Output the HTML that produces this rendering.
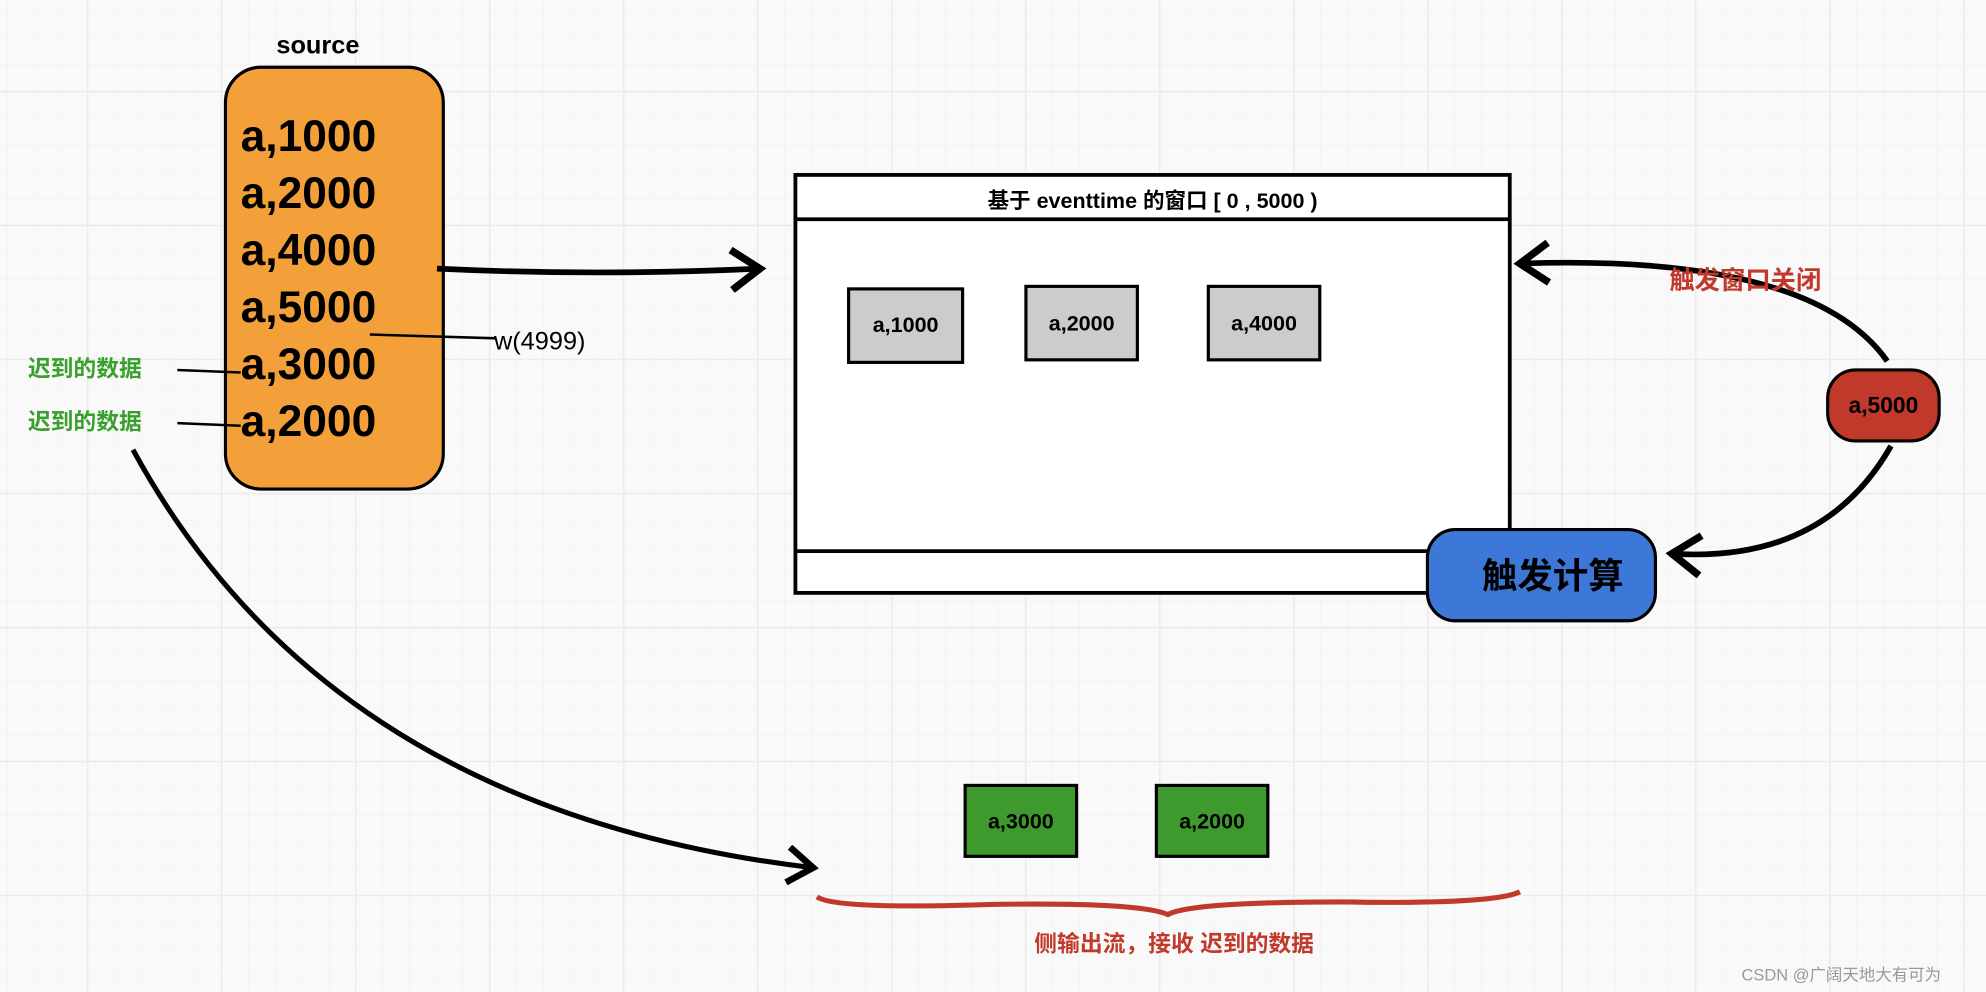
<!DOCTYPE html>
<html><head><meta charset="utf-8"><style>
html,body{margin:0;padding:0;background:#f9f9f9;}
svg{display:block;}
text{font-family:"Liberation Sans","Noto Sans CJK SC",sans-serif;}
</style></head><body>
<svg width="1986" height="992" viewBox="0 0 1568 783" xmlns="http://www.w3.org/2000/svg">
<defs>
<pattern id="minor" width="21.16" height="21.16" patternUnits="userSpaceOnUse" x="6" y="9">
<path d="M21.16 0V21.16M0 21.16H21.16" stroke="#f0f0f0" stroke-width="1" fill="none"/>
</pattern>
<pattern id="major" width="105.8" height="105.8" patternUnits="userSpaceOnUse" x="-36" y="-33">
<path d="M105.8 0V105.8M0 105.8H105.8" stroke="#ebebeb" stroke-width="2.5" fill="none"/>
</pattern>
<marker id="ah" markerWidth="8" markerHeight="8" refX="6" refY="4" orient="auto" markerUnits="strokeWidth">
<path d="M1,0.5 L6,4 L1,7.5" fill="none" stroke="#000" stroke-width="1.3"/>
</marker>
</defs>
<rect width="1568" height="783" fill="#f9f9f9"/>
<rect width="1568" height="783" fill="url(#minor)"/>
<rect width="1568" height="783" fill="url(#major)"/>

<text x="251" y="42" font-size="20" font-weight="bold" text-anchor="middle">source</text>
<rect x="178" y="53" width="172" height="333" rx="28" fill="#f4a03a" stroke="#000" stroke-width="2.5"/>
<g font-size="35" font-weight="bold">
<text x="190" y="119">a,1000</text>
<text x="190" y="164">a,2000</text>
<text x="190" y="209">a,4000</text>
<text x="190" y="254">a,5000</text>
<text x="190" y="299">a,3000</text>
<text x="190" y="344">a,2000</text>
</g>
<path d="M292 264 L392 267" stroke="#000" stroke-width="2"/>
<text x="390" y="276" font-size="20">w(4999)</text>
<g font-size="18" font-weight="bold" fill="#3aa02d">
<text x="22" y="297">迟到的数据</text>
<text x="22" y="339">迟到的数据</text>
</g>
<path d="M140 292 L190 294 M140 334 L190 336" stroke="#000" stroke-width="2"/>

<path d="M345 212 Q470 218 600 212" stroke="#000" stroke-width="4.5" fill="none" marker-end="url(#ah)"/>

<rect x="628" y="138" width="564" height="330" fill="#fff" stroke="#000" stroke-width="3"/>
<path d="M628 173 H1192 M628 435 H1192" stroke="#000" stroke-width="3"/>
<text x="910" y="164" font-size="17" font-weight="bold" text-anchor="middle">基于 eventtime 的窗口 [ 0 , 5000 )</text>

<g stroke="#000" stroke-width="2.5" fill="#cccccc">
<rect x="670" y="228" width="90" height="58"/>
<rect x="810" y="226" width="88" height="58"/>
<rect x="954" y="226" width="88" height="58"/>
</g>
<g font-size="17" font-weight="bold" text-anchor="middle">
<text x="715" y="262">a,1000</text>
<text x="854" y="261">a,2000</text>
<text x="998" y="261">a,4000</text>
</g>

<path d="M1490 285 Q1430 200 1200 208" stroke="#000" stroke-width="4.5" fill="none" marker-end="url(#ah)"/>
<text x="1318" y="228" font-size="20" font-weight="bold" fill="#c0392b">触发窗口关闭</text>
<rect x="1443" y="292" width="88" height="56" rx="22" fill="#c0392b" stroke="#000" stroke-width="2.5"/>
<text x="1487" y="326" font-size="18" font-weight="bold" text-anchor="middle">a,5000</text>
<path d="M1493 352 Q1440 445 1320 437" stroke="#000" stroke-width="4.5" fill="none" marker-end="url(#ah)"/>

<rect x="1127" y="418" width="180" height="72" rx="22" fill="#3d78d8" stroke="#000" stroke-width="2.5"/>
<text x="1226" y="464" font-size="28" font-weight="bold" text-anchor="middle">触发计算</text>

<path d="M105 355 Q260 640 642 685" stroke="#000" stroke-width="4" fill="none" marker-end="url(#ah)"/>

<g stroke="#000" stroke-width="2.5" fill="#3f9a2e">
<rect x="762" y="620" width="88" height="56"/>
<rect x="913" y="620" width="88" height="56"/>
</g>
<g font-size="17" font-weight="bold" text-anchor="middle">
<text x="806" y="654">a,3000</text>
<text x="957" y="654">a,2000</text>
</g>
<path d="M645 708 Q660 718 780 714 Q900 712 922 722 Q940 712 1060 712 Q1180 714 1200 704" stroke="#c0392b" stroke-width="4" fill="none"/>
<text x="927" y="751" font-size="18" font-weight="bold" fill="#c0392b" text-anchor="middle">侧输出流，接收 迟到的数据</text>

<text x="1375" y="774" font-size="13" fill="#999">CSDN @广阔天地大有可为</text>
</svg>
</body></html>
